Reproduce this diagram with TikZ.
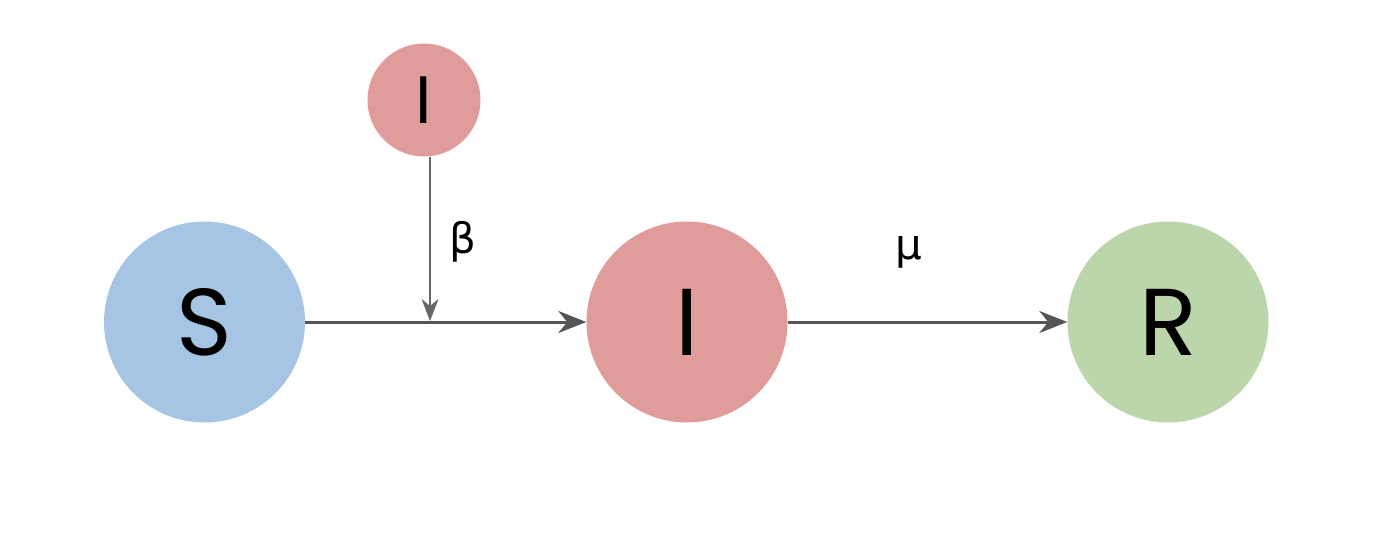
\documentclass[tikz,border=0pt]{standalone}
\usepackage{fontspec}
\setmainfont{Poppins}
\newfontfamily\greekfont{DejaVu Sans}
\usetikzlibrary{arrows.meta}
\definecolor{sblue}{RGB}{166,196,228}
\definecolor{ired}{RGB}{224,156,154}
\definecolor{rgreen}{RGB}{186,214,170}
\definecolor{edgegray}{RGB}{85,85,88}
\begin{document}
\begin{tikzpicture}[x=1pt,y=-1pt,
  state/.style={circle,minimum size=201pt,inner sep=0pt,font=\fontsize{95}{100}\selectfont},
  small/.style={circle,minimum size=113pt,inner sep=0pt,font=\fontsize{67}{70}\selectfont},
  flow/.style={draw=edgegray,line width=3pt,-{Stealth[length=28pt,width=22pt,inset=9pt]}},
  infl/.style={draw=edgegray!90,line width=1.6pt,-{Stealth[length=22pt,width=17pt,inset=7pt]}},
  rate/.style={font=\greekfont\fontsize{42}{44}\selectfont}]
\useasboundingbox (0,0) rectangle (1384,538);
\node[state,fill=sblue] (S) at (204.5,322) {S};
\node[state,fill=ired] (I) at (687,322) {I};
\node[state,fill=rgreen] (R) at (1168,322) {R};
\node[small,fill=ired] (sI) at (424,100) {I};
\coordinate (j) at (430,321);
\draw[flow] (S.east) -- (I.west);
\draw[flow] (I.east) -- (R.west);
\draw[infl] (sI.south -| j) -- (j);
\node[rate] (beta) at (463,242) {β};
\node[rate] (mu) at (909,252) {μ};
\end{tikzpicture}
\end{document}
